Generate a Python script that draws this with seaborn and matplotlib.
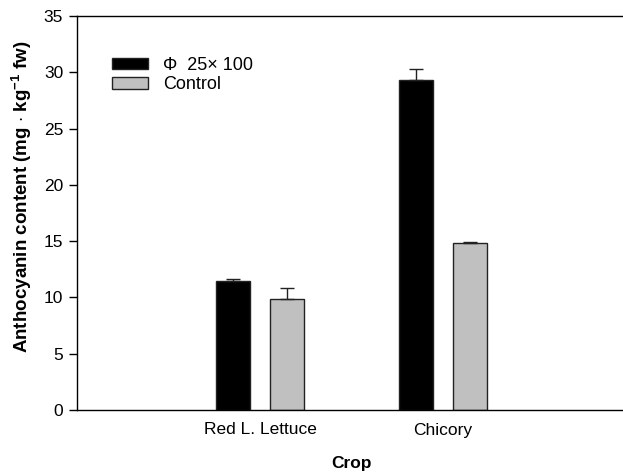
import matplotlib
matplotlib.use("Agg")
import matplotlib.pyplot as plt
import seaborn as sns
import pandas as pd
import numpy as np

crops = ["Red L. Lettuce", "Chicory"]
treatments = ["\u03a6  25\u00d7 100", "Control"]
treated_vals = [11.45, 29.35]
control_vals = [9.9, 14.8]
treated_err = [0.15, 0.95]
control_err = [0.95, 0.12]

sns.set_theme(style="ticks")
plt.rcParams["font.family"] = ["Liberation Sans", "DejaVu Sans"]
plt.rcParams["mathtext.fontset"] = "custom"
plt.rcParams["mathtext.rm"] = "Liberation Sans"
plt.rcParams["mathtext.bf"] = "Liberation Sans:bold"
plt.rcParams["text.color"] = "black"
plt.rcParams["axes.labelcolor"] = "black"
plt.rcParams["xtick.color"] = "black"
plt.rcParams["ytick.color"] = "black"

df = pd.DataFrame({
    "Crop": crops * 2,
    "Treatment": [treatments[0]] * 2 + [treatments[1]] * 2,
    "Value": treated_vals + control_vals,
    "Err": treated_err + control_err,
})

fig = plt.figure(figsize=(6.23, 4.76), dpi=100)
ax = fig.add_axes([77 / 623, 66 / 476, 549 / 623, 394 / 476])

sns.barplot(data=df, x="Crop", y="Value", hue="Treatment", order=crops,
            hue_order=treatments, palette=["#000000", "#c0c0c0"],
            width=0.6, gap=0.38, edgecolor="#222222", linewidth=1.0,
            errorbar=None, ax=ax)

# upper error bars at bar positions from the library
for patch_container, errs, vals in zip(ax.containers, [treated_err, control_err],
                                       [treated_vals, control_vals]):
    xs = [p.get_x() + p.get_width() / 2 for p in patch_container.patches]
    ax.errorbar(xs, vals, yerr=[np.zeros(len(errs)), errs], fmt="none",
                ecolor="#222222", elinewidth=1.0, capsize=5, capthick=1.0,
                zorder=1)

ax.set_xlim(-1.0, 2.0)
ax.set_ylim(0, 35)
ax.set_yticks(np.arange(0, 36, 5))
ax.tick_params(axis="y", direction="out", length=6, width=1, labelsize=12.5,
               colors="black", pad=4)
ax.tick_params(axis="x", length=0, labelsize=12.5, pad=9, labelcolor="black")
for s in ax.spines.values():
    s.set_color("black")
    s.set_linewidth(1.0)
ax.spines["right"].set_visible(False)

ax.set_xlabel("Crop", fontsize=12.5, fontweight="bold", labelpad=13,
              color="black")
ax.set_ylabel(r"Anthocyanin content (mg $\cdot$ kg$^{\mathbf{-1}}$ fw)",
              fontsize=13.5, fontweight="bold", color="black")
ax.yaxis.set_label_coords(-0.078, 0.54)

leg = ax.legend(loc="upper left", bbox_to_anchor=(0.051, 0.915), frameon=False,
                fontsize=13, handlelength=2.0, handleheight=0.58,
                handletextpad=0.8, labelspacing=0.15, borderaxespad=0)
for t in leg.get_texts():
    t.set_color("black")

fig.savefig("out.png", dpi=100)
